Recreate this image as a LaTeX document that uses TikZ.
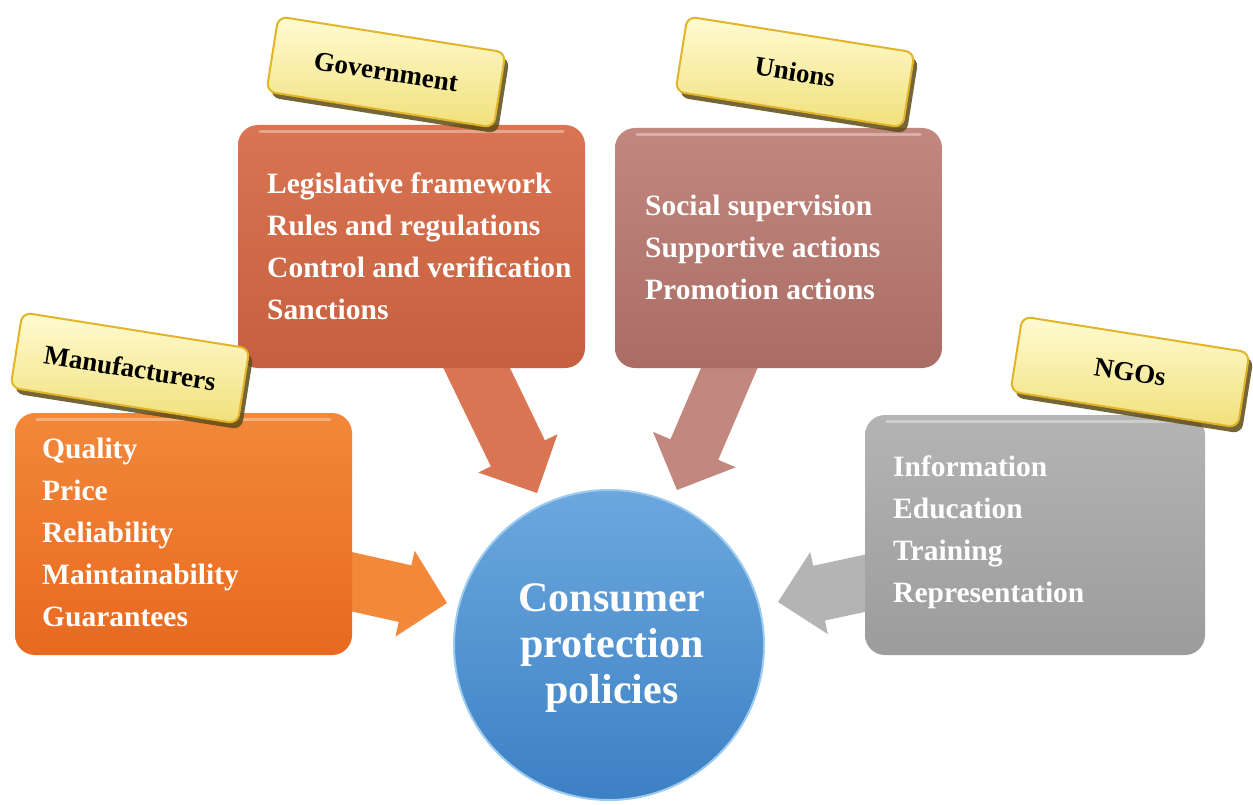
\documentclass[tikz,border=0pt]{standalone}
\usepackage{fontspec}
\setmainfont{Liberation Serif}
\usetikzlibrary{calc,shadows}
\definecolor{govtop}{HTML}{D97553}
\definecolor{govbot}{HTML}{C65F3D}
\definecolor{unitop}{HTML}{C2877F}
\definecolor{unibot}{HTML}{A96D65}
\definecolor{mantop}{HTML}{F2883A}
\definecolor{manbot}{HTML}{E8691F}
\definecolor{ngotop}{HTML}{B4B4B4}
\definecolor{ngobot}{HTML}{9C9C9C}
\definecolor{blutop}{HTML}{6CA8DE}
\definecolor{blubot}{HTML}{3C80C4}
\definecolor{blurim}{HTML}{9CCBF0}
\definecolor{tagtop}{HTML}{FFFBD2}
\definecolor{tagbot}{HTML}{F1E07A}
\definecolor{taggold}{HTML}{E2B42A}
\definecolor{tagshadow}{HTML}{5E4C16}
\newcommand\blockarrow[6]{%
  \path ($(#2)!#5!(#1)$) coordinate (bah);
  \fill[#6] ($(#1)!#3!-90:(#2)$) -- ($(bah)!#3!90:(#1)$) -- ($(bah)!#4!90:(#1)$)
    -- (#2) -- ($(bah)!#4!-90:(#1)$) -- ($(bah)!#3!-90:(#1)$) -- ($(#1)!#3!90:(#2)$) -- cycle;}
\begin{document}
\begin{tikzpicture}[x=1pt,y=-1pt,
  panel/.style={rounded corners=20pt, inner sep=0pt},
  tag/.style={rounded corners=9pt, top color=tagtop, bottom color=tagbot, draw=taggold,
    line width=2pt, minimum width=230pt, minimum height=76pt, rotate=-9, inner sep=0pt,
    font=\fontsize{27}{30}\selectfont\bfseries, text=black,
    drop shadow={shadow xshift=4pt, shadow yshift=-6pt, fill=tagshadow, opacity=0.85}},
  bodytext/.style={text=white, font=\fontsize{29.5}{42}\selectfont\bfseries, align=left,
    anchor=west, inner sep=0pt},
  gloss/.style={white, opacity=0.35, line width=3pt, line cap=round}]
\useasboundingbox (0,0) rectangle (1253,805);
\fill[white] (0,0) rectangle (1253,805);

% central circle
\node[circle, minimum size=310pt, top color=blutop, bottom color=blubot, draw=blurim,
  line width=2pt, inner sep=0pt] (cpp) at (609,645) {};
\node[text=white, font=\fontsize{42}{46}\selectfont\bfseries, align=center] (cpptext)
  at (612,648) {Consumer\\protection\\policies};

% arrows
\coordinate (govS) at (468,350);  \coordinate (govT) at (537,493);
\coordinate (uniS) at (737,350);  \coordinate (uniT) at (677,490);
\coordinate (manS) at (335,578);  \coordinate (manT) at (447,603);
\coordinate (ngoS) at (880,580);  \coordinate (ngoT) at (778,602);
\blockarrow{govS}{govT}{30pt}{44pt}{44pt}{govtop}
\blockarrow{uniS}{uniT}{26pt}{45pt}{44pt}{unitop}
\blockarrow{manS}{manT}{29pt}{44pt}{43pt}{mantop}
\blockarrow{ngoS}{ngoT}{28pt}{42pt}{42pt}{ngotop}

% panels
\node[panel, minimum width=347pt, minimum height=243pt, top color=govtop, bottom color=govbot]
  (gov) at (411.5,246.5) {};
\node[panel, minimum width=327pt, minimum height=240pt, top color=unitop, bottom color=unibot]
  (uni) at (778.5,248) {};
\node[panel, minimum width=337pt, minimum height=242pt, top color=mantop, bottom color=manbot]
  (man) at (183.5,534) {};
\node[panel, minimum width=340pt, minimum height=240pt, top color=ngotop, bottom color=ngobot]
  (ngo) at (1035,535) {};
\foreach \b in {gov,uni,man,ngo}{
  \draw[gloss] ($(\b.north west)+(22,7)$) -- ($(\b.north east)+(-22,7)$);
}

% panel texts
\node[bodytext] (govtext) at (267,246) {Legislative framework\\Rules and regulations\\Control and verification\\Sanctions};
\node[bodytext] (unitext) at (645,247) {Social supervision\\Supportive actions\\Promotion actions};
\node[bodytext] (mantext) at (42,532) {Quality\\Price\\Reliability\\Maintainability\\Guarantees};
\node[bodytext] (ngotext) at (893,532) {Information\\Education\\Training\\Representation};

% tags
\node[tag] (govtag) at (386,72) {Government};
\node[tag] (unitag) at (795,72) {Unions};
\node[tag] (mantag) at (130,368) {Manufacturers};
\node[tag] (ngotag) at (1130,372) {NGOs};
\end{tikzpicture}
\end{document}
